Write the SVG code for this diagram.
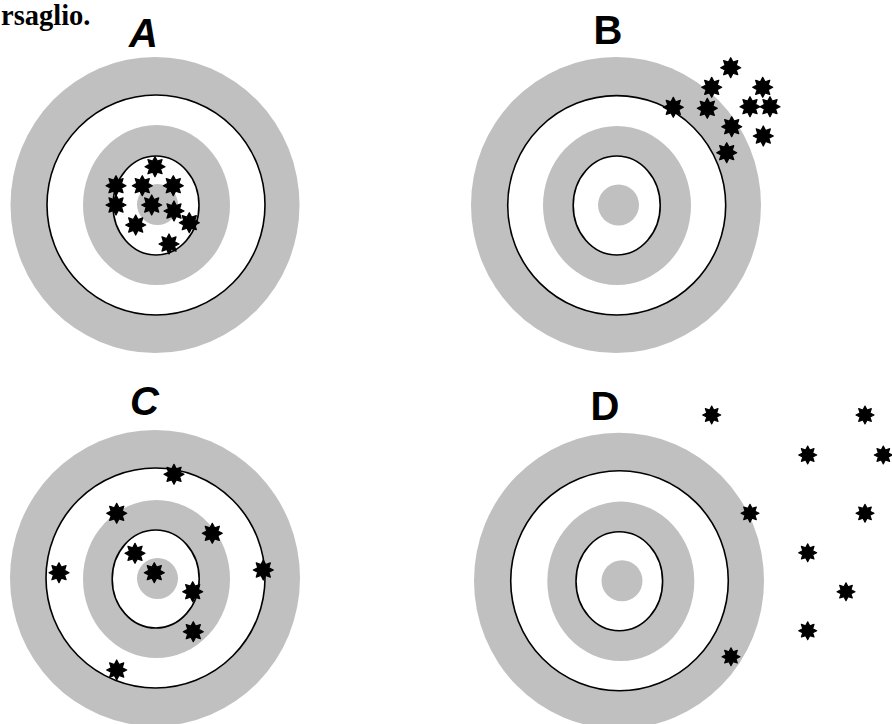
<svg xmlns="http://www.w3.org/2000/svg" xmlns:xlink="http://www.w3.org/1999/xlink" width="892" height="724" viewBox="0 0 892 724">
<style>
.g{fill:#c0c0c0;stroke:none}
.w{fill:#ffffff;stroke:#000000;stroke-width:1.6}
.lbl{font-family:"Liberation Sans","DejaVu Sans",sans-serif;font-weight:bold;font-size:40px;fill:#000;text-anchor:middle}
.hdr{font-family:"Liberation Serif","Times New Roman",serif;font-weight:bold;font-size:28.5px;fill:#000}
</style>
<defs>
<path id="st" d="M0,-10 L2.3,-5.55 L7.071,-7.071 L5.55,-2.3 L10,0 L5.55,2.3 L7.071,7.071 L2.3,5.55 L0,10 L-2.3,5.55 L-7.071,7.071 L-5.55,2.3 L-10,0 L-5.55,-2.3 L-7.071,-7.071 L-2.3,-5.55 Z" fill="#000" stroke="#000" stroke-width="1.2" stroke-linejoin="round"/>
</defs>
<rect width="892" height="724" fill="#ffffff"/>
<text class="hdr" x="1" y="25">rsaglio.</text>

<g id="targetA">
<text class="lbl" x="143.5" y="47" font-style="italic">A</text>
<ellipse class="g" cx="155" cy="205" rx="144.5" ry="148"/>
<ellipse class="w" cx="156" cy="205" rx="109" ry="110"/>
<ellipse class="g" cx="156.5" cy="205" rx="73.5" ry="80"/>
<ellipse class="w" cx="156" cy="205.5" rx="43" ry="49.5"/>
<circle class="g" cx="157.5" cy="204.5" r="20.5"/>
<use xlink:href="#st" x="155" y="166.7"/>
<use xlink:href="#st" x="116" y="185.7"/>
<use xlink:href="#st" x="142.3" y="185.7"/>
<use xlink:href="#st" x="173.3" y="185.7"/>
<use xlink:href="#st" x="116" y="205"/>
<use xlink:href="#st" x="151.7" y="205"/>
<use xlink:href="#st" x="174" y="211"/>
<use xlink:href="#st" x="189.3" y="222.7"/>
<use xlink:href="#st" x="135.7" y="225"/>
<use xlink:href="#st" x="169" y="244"/>
</g>

<g id="targetB">
<text class="lbl" x="608" y="44">B</text>
<ellipse class="g" cx="616" cy="205" rx="145" ry="148"/>
<ellipse class="w" cx="616.7" cy="205.3" rx="109" ry="109.7"/>
<ellipse class="g" cx="617" cy="205.5" rx="74" ry="79.5"/>
<ellipse class="w" cx="616.7" cy="205.5" rx="43.5" ry="49.5"/>
<circle class="g" cx="618.5" cy="205" r="20.5"/>
<use xlink:href="#st" x="730.7" y="67.7"/>
<use xlink:href="#st" x="711.7" y="87.3"/>
<use xlink:href="#st" x="762.7" y="87.3"/>
<use xlink:href="#st" x="673.3" y="107.3"/>
<use xlink:href="#st" x="707.3" y="108.3"/>
<use xlink:href="#st" x="750" y="106.7"/>
<use xlink:href="#st" x="770" y="106.7"/>
<use xlink:href="#st" x="731.7" y="126.7"/>
<use xlink:href="#st" x="763.3" y="136"/>
<use xlink:href="#st" x="726.7" y="152.7"/>
</g>

<g id="targetC">
<text class="lbl" x="144.5" y="415" font-style="italic">C</text>
<ellipse class="g" cx="155" cy="578" rx="145" ry="148"/>
<ellipse class="w" cx="155.5" cy="578" rx="109.5" ry="110"/>
<ellipse class="g" cx="156.5" cy="579" rx="73.5" ry="79"/>
<ellipse class="w" cx="155.7" cy="579" rx="43.5" ry="49"/>
<circle class="g" cx="157.5" cy="578.5" r="20.5"/>
<use xlink:href="#st" x="174" y="474.3"/>
<use xlink:href="#st" x="116.7" y="513.3"/>
<use xlink:href="#st" x="212.3" y="533.3"/>
<use xlink:href="#st" x="135" y="553.3"/>
<use xlink:href="#st" x="59" y="572.7"/>
<use xlink:href="#st" x="154.3" y="572.7"/>
<use xlink:href="#st" x="263.3" y="570"/>
<use xlink:href="#st" x="192.7" y="591.7"/>
<use xlink:href="#st" x="193.3" y="631.7"/>
<use xlink:href="#st" x="116.7" y="670"/>
</g>

<g id="targetD">
<text class="lbl" x="605" y="420">D</text>
<ellipse class="g" cx="619" cy="580.7" rx="145" ry="148"/>
<ellipse class="w" cx="619.5" cy="580.7" rx="108.8" ry="110"/>
<ellipse class="g" cx="620.8" cy="581.3" rx="73.5" ry="79.7"/>
<ellipse class="w" cx="619.3" cy="581.2" rx="43.3" ry="49.5"/>
<circle class="g" cx="622" cy="580.8" r="20.5"/>
<g transform="translate(711.7,415) scale(0.9)"><use xlink:href="#st"/></g>
<g transform="translate(865,415) scale(0.9)"><use xlink:href="#st"/></g>
<g transform="translate(807.7,455) scale(0.9)"><use xlink:href="#st"/></g>
<g transform="translate(883.3,455) scale(0.9)"><use xlink:href="#st"/></g>
<g transform="translate(750,513.3) scale(0.9)"><use xlink:href="#st"/></g>
<g transform="translate(865,513.3) scale(0.9)"><use xlink:href="#st"/></g>
<g transform="translate(807.7,552.7) scale(0.9)"><use xlink:href="#st"/></g>
<g transform="translate(846,591.7) scale(0.9)"><use xlink:href="#st"/></g>
<g transform="translate(807.7,630.7) scale(0.9)"><use xlink:href="#st"/></g>
<g transform="translate(731,656.7) scale(0.9)"><use xlink:href="#st"/></g>
</g>
</svg>
